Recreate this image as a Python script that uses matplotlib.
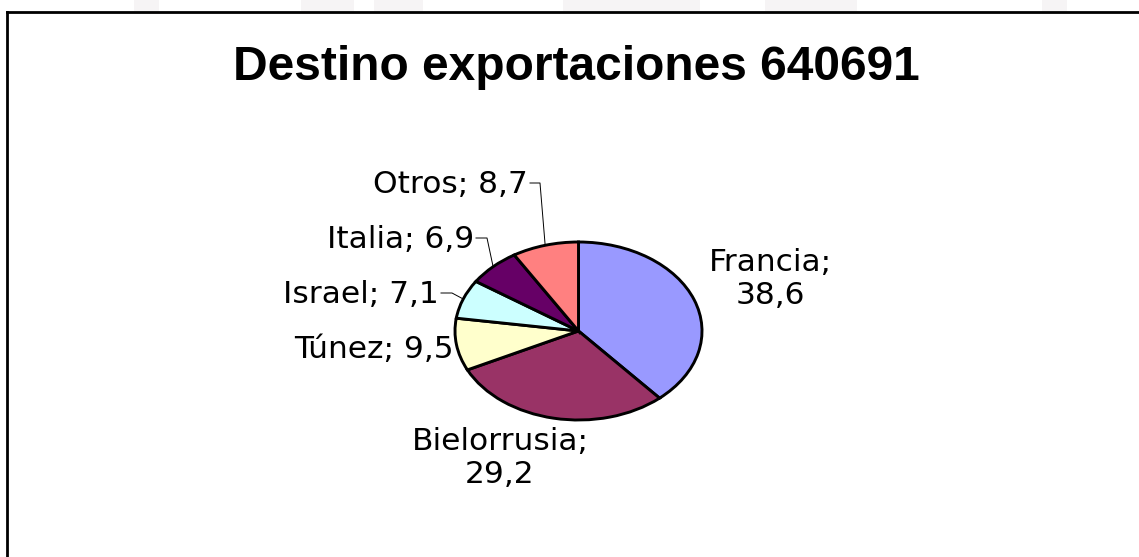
import numpy as np
import matplotlib.pyplot as plt
from matplotlib.patches import Rectangle

paises = ["Francia", "Bielorrusia", "Túnez", "Israel", "Italia", "Otros"]
valores = [38.6, 29.2, 9.5, 7.1, 6.9, 8.7]
colores = ["#9999FF", "#993366", "#FFFFCC", "#CCFFFF", "#660066", "#FF8080"]
titulo = "Destino exportaciones 640691"

W, H = 1139, 557
fig = plt.figure(figsize=(W / 100, H / 100), dpi=100)

# capa en pixeles para marco, titulo y etiquetas
capa = fig.add_axes([0, 0, 1, 1])
capa.set_xlim(0, W)
capa.set_ylim(H, 0)
capa.axis("off")

# manchas grises del membrete de arriba
for x0, x1 in [(134, 159), (301, 354), (374, 423), (563, 700), (765, 857), (1042, 1067)]:
    capa.add_patch(Rectangle((x0, 0), x1 - x0, 11, color="#f6f4f5", lw=0))

# marco del grafico (sigue fuera de la imagen)
capa.plot([7, 7], [12, H + 10], color="black", lw=2, solid_capstyle="projecting")
capa.plot([7, W + 10], [12, 12], color="black", lw=2, solid_capstyle="projecting")

capa.text(576, 80, titulo, ha="center", va="baseline", fontsize=34.5,
          fontweight="bold", family="Liberation Sans")

# tarta achatada: ejes sin aspecto igual
x0, x1, y0, y1 = 455, 702, 242, 420
ax = fig.add_axes([x0 / W, 1 - y1 / H, (x1 - x0) / W, (y1 - y0) / H])
wedges, _ = ax.pie(valores, colors=colores, startangle=90, counterclock=False,
                   wedgeprops=dict(edgecolor="black", linewidth=2.1))
ax.set_aspect("auto")
ax.set_xlim(-1, 1)
ax.set_ylim(-1, 1)
for w in wedges:
    w.set_clip_on(False)

etiquetas = [f"{p}; {v:.1f}".replace(".", ",") for p, v in zip(paises, valores)]
tot = sum(valores)
medio = 90 - (np.cumsum(valores) - np.array(valores) / 2) / tot * 360


def borde(i):
    # punto del borde de la tarta en el angulo medio del sector i, en pixeles
    a = np.deg2rad(medio[i])
    p = ax.transData.transform((np.cos(a), np.sin(a)))
    return capa.transData.inverted().transform(p)


fs = 22.5
fam = "DejaVu Sans"

# Francia y Bielorrusia en dos lineas, centradas
capa.text(770, 279, etiquetas[0].replace(" ", "\n"), ha="center", va="center",
          fontsize=fs, family=fam, linespacing=1.15)
capa.text(500, 458, etiquetas[1].replace(" ", "\n"), ha="center", va="center",
          fontsize=fs, family=fam, linespacing=1.15)

# etiquetas de la izquierda: (indice, x derecha, linea base, codo de la guia)
izq = [(2, 454, 358, None), (3, 439, 303, 452), (4, 474, 248, 487), (5, 528, 193, 540)]
for i, xr, yb, codo in izq:
    capa.text(xr, yb, etiquetas[i], ha="right", va="baseline", fontsize=fs, family=fam)
    if codo is not None:
        px, py = borde(i)
        capa.plot([xr + 2, codo, px], [yb - 10, yb - 10, py], color="black", lw=0.7)

fig.savefig("out.png", dpi=100)
